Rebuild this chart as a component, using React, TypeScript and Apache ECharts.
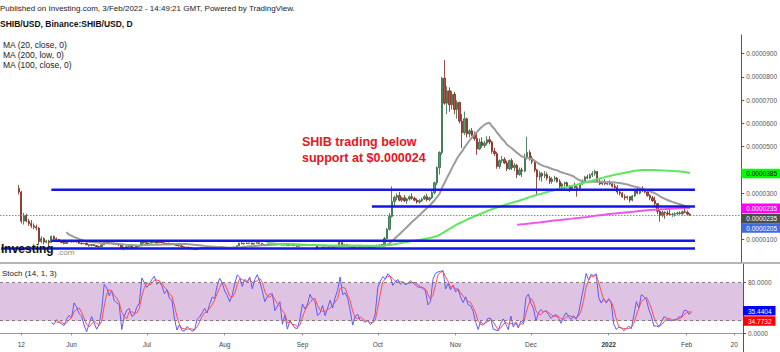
import React, { useEffect, useRef } from 'react';
import * as echarts from 'echarts';

const FONT = '"Liberation Sans", Arial, sans-serif';
const UNIT = 1e-7; // prices below are in units of 0.0000001 USD

// time axis: one category per day
const axisFirstDay = '2021-05-04';
const axisDayCount = 296;
const firstCandleDay = '2021-05-11';

// daily candles, rows: [open, high, low, close]
const may21 = [
  [320, 335, 295, 305], [305, 310, 170, 180], [180, 215, 165, 205], [205, 212, 175, 180], [180, 190, 160, 170],
  [170, 185, 150, 160], [160, 170, 145, 155], [155, 165, 140, 150], [150, 155, 80, 92], [92, 115, 85, 105],
  [105, 110, 80, 90], [90, 100, 85, 95], [95, 100, 70, 88], [88, 118, 86, 114], [114, 118, 98, 104],
  [104, 110, 98, 101], [101, 104, 92, 95], [95, 97, 85, 88], [88, 92, 80, 84], [84, 94, 82, 92], [92, 99, 89, 97],
];
const jun21 = [
  [97, 100, 88, 91], [91, 95, 88, 93], [93, 97, 89, 90], [90, 92, 82, 85], [85, 89, 80, 83], [83, 87, 81, 85],
  [85, 88, 77, 78], [78, 80, 70, 76], [76, 81, 72, 79], [79, 80, 73, 75], [75, 77, 69, 71], [71, 74, 65, 70],
  [70, 79, 68, 78], [78, 96, 77, 92], [92, 95, 86, 88], [88, 90, 82, 84], [84, 89, 82, 86], [86, 87, 79, 81],
  [81, 84, 78, 80], [80, 82, 72, 79], [79, 80, 63, 65], [65, 70, 55, 66], [66, 73, 64, 70], [70, 73, 67, 71],
  [71, 72, 64, 66], [66, 69, 63, 67], [67, 73, 66, 72], [72, 76, 70, 74], [74, 95, 73, 90], [90, 93, 84, 87],
];
const jul21 = [
  [87, 89, 82, 84], [84, 88, 82, 86], [86, 90, 85, 89], [89, 93, 87, 91], [91, 92, 85, 86], [86, 90, 85, 89],
  [89, 92, 86, 87], [87, 88, 81, 83], [83, 86, 81, 85], [85, 87, 80, 82], [82, 84, 80, 83], [83, 84, 77, 78],
  [78, 80, 74, 75], [75, 77, 71, 74], [74, 76, 69, 70], [70, 72, 66, 67], [67, 69, 65, 68], [68, 70, 64, 66],
  [66, 67, 60, 61], [61, 63, 56, 58], [58, 64, 57, 63], [63, 65, 61, 64], [64, 67, 62, 66], [66, 68, 64, 67],
  [67, 68, 63, 65], [65, 71, 64, 67], [67, 69, 63, 68], [68, 70, 66, 67], [67, 69, 65, 68], [68, 70, 65, 69],
  [69, 71, 67, 68],
];
const aug21 = [
  [68, 70, 65, 66], [66, 68, 64, 65], [65, 66, 62, 64], [64, 68, 63, 67], [67, 70, 65, 69], [69, 75, 68, 74],
  [74, 88, 73, 85], [85, 89, 81, 82], [82, 86, 79, 85], [85, 88, 83, 84], [84, 87, 82, 86], [86, 87, 80, 81],
  [81, 86, 80, 85], [85, 89, 84, 87], [87, 88, 82, 84], [84, 85, 79, 80], [80, 82, 75, 76], [76, 80, 75, 79],
  [79, 82, 77, 81], [81, 84, 80, 83], [83, 84, 79, 80], [80, 82, 78, 81], [81, 84, 80, 82], [82, 83, 76, 77],
  [77, 80, 76, 79], [79, 80, 74, 75], [75, 78, 74, 77], [77, 78, 75, 76], [76, 77, 73, 74], [74, 76, 71, 72],
  [72, 75, 71, 74],
];
const sep21 = [
  [74, 78, 73, 77], [77, 79, 75, 76], [76, 78, 74, 77], [77, 80, 76, 79], [79, 81, 77, 78], [78, 80, 76, 77],
  [77, 78, 56, 63], [63, 66, 61, 64], [64, 68, 63, 67], [67, 69, 62, 63], [63, 67, 62, 66], [66, 70, 65, 69],
  [69, 70, 64, 66], [66, 71, 65, 70], [70, 74, 69, 73], [73, 92, 72, 88], [88, 89, 76, 78], [78, 81, 76, 79],
  [79, 80, 75, 76], [76, 77, 67, 69], [69, 71, 63, 65], [65, 71, 64, 70], [70, 72, 68, 71], [71, 72, 66, 68],
  [68, 70, 66, 69], [69, 70, 65, 68], [68, 71, 67, 69], [69, 70, 66, 67], [67, 69, 66, 68], [68, 72, 67, 71],
];
const oct21 = [
  [71, 78, 70, 76], [76, 79, 74, 77], [77, 82, 76, 80], [80, 112, 79, 105], [105, 150, 103, 145], [145, 215, 140, 200],
  [200, 330, 195, 265], [265, 290, 245, 282], [282, 300, 270, 290], [290, 305, 265, 270], [270, 285, 262, 280],
  [280, 292, 262, 268], [268, 280, 255, 275], [275, 290, 268, 285], [285, 300, 272, 278], [278, 285, 265, 270],
  [270, 278, 255, 262], [262, 275, 255, 268], [268, 280, 262, 275], [275, 292, 270, 285], [285, 298, 265, 272],
  [272, 285, 265, 280], [280, 310, 275, 302], [302, 350, 295, 345], [345, 415, 335, 410], [410, 480, 380, 475],
  [475, 800, 465, 794], [794, 873, 680, 687], [687, 760, 640, 740], [740, 755, 650, 680], [680, 740, 660, 725],
];
const nov21 = [
  [725, 735, 640, 660], [660, 700, 620, 690], [690, 694, 600, 610], [610, 640, 494, 560], [560, 651, 550, 620],
  [620, 625, 540, 555], [555, 575, 540, 568], [568, 580, 545, 550], [550, 565, 525, 535], [535, 560, 465, 490],
  [490, 535, 485, 520], [520, 540, 495, 505], [505, 525, 495, 515], [515, 545, 505, 530], [530, 545, 510, 520],
  [520, 525, 470, 480], [480, 495, 460, 470], [470, 478, 405, 415], [415, 445, 405, 440], [440, 460, 430, 445],
  [445, 455, 425, 430], [430, 440, 395, 405], [405, 445, 400, 440], [440, 450, 400, 410], [410, 430, 395, 420],
  [420, 425, 365, 380], [380, 410, 375, 400], [400, 410, 370, 395], [395, 470, 390, 455], [455, 543, 445, 475],
];
const dec21 = [
  [475, 485, 440, 450], [450, 460, 425, 435], [435, 440, 390, 400], [400, 405, 290, 370], [370, 395, 355, 385],
  [385, 390, 350, 375], [375, 395, 365, 380], [380, 390, 355, 365], [365, 375, 340, 350], [350, 370, 340, 360],
  [360, 375, 350, 365], [365, 370, 345, 350], [350, 360, 320, 330], [330, 345, 320, 340], [340, 350, 315, 345],
  [345, 350, 325, 330], [330, 335, 305, 315], [315, 335, 310, 330], [330, 345, 320, 325], [325, 335, 285, 320],
  [320, 345, 318, 340], [340, 360, 335, 350], [350, 375, 345, 370], [370, 380, 360, 365], [365, 385, 360, 378],
  [378, 395, 370, 385], [385, 400, 375, 393], [393, 395, 345, 350], [350, 360, 335, 340], [340, 355, 335, 348],
  [348, 360, 335, 340],
];
const jan22 = [
  [340, 350, 335, 348], [348, 355, 335, 340], [340, 345, 325, 330], [330, 340, 320, 325], [325, 335, 295, 305],
  [305, 310, 290, 300], [300, 305, 280, 285], [285, 295, 270, 280], [280, 290, 272, 285], [285, 288, 260, 270],
  [270, 292, 265, 288], [288, 315, 285, 310], [310, 330, 295, 300], [300, 325, 295, 318], [318, 330, 305, 315],
  [315, 320, 300, 305], [305, 310, 285, 290], [290, 295, 270, 280], [280, 288, 262, 268], [268, 285, 245, 255],
  [255, 258, 210, 222], [222, 228, 178, 205], [205, 225, 198, 218], [218, 222, 190, 215], [215, 225, 205, 210],
  [210, 235, 202, 208], [208, 215, 198, 210], [210, 218, 200, 212], [212, 220, 206, 215], [215, 222, 208, 212],
  [212, 225, 205, 220],
];
const feb22 = [[220, 232, 215, 218], [218, 225, 208, 210], [210, 214, 202, 205]];

// hand-drawn horizontal levels
const levelValues = [315, 243, 96, 62];
const levelFrom = ['2021-05-24', '2021-09-29', '2021-05-24', '2021-05-04'];
const levelTo = '2022-02-05';

// axis ticks
const xTickDates = ['2021-05-12', '2021-06-01', '2021-07-01', '2021-08-01', '2021-09-01', '2021-10-01',
  '2021-11-01', '2021-12-01', '2022-01-01', '2022-02-01', '2022-02-20'];
const xTickLabels = ['12', 'Jun', 'Jul', 'Aug', 'Sep', 'Oct', 'Nov', 'Dec', '2022', 'Feb', '20'];
const priceTicks = [100, 200, 300, 400, 500, 600, 700, 800, 900];
// 200 and 400 sit under the value tags, as in the reference
const priceLabels = [100, 300, 500, 600, 700, 800, 900];
const stochTicks = [0, 80];
const stochBand = [20, 80];

// values shown in the right-hand tags: MA100, MA200, MA20, last price
const priceTags = [385, 235, 235, 205];
const stochTags = [35.4404, 34.7732];

const fmtPrice = (v: number) => (v * UNIT).toFixed(7);
const HIDDEN_LINE = { width: 0, color: 'rgba(0,0,0,0)' };

function tag(value: number, text: string, bg: string, fg: string, shift: number, line?: any) {
  const rich: any = {
    t: { backgroundColor: bg, color: fg, fontSize: 6.5, fontFamily: FONT, padding: [1.5, 4, 1, 5], lineHeight: 7.5 },
  };
  let formatter = `{t|${text}}`;
  if (shift > 0) {
    rich.g = { lineHeight: shift * 2, fontSize: 2 };
    formatter = `{g| }\n{t|${text}}`;
  }
  return {
    silent: true,
    symbol: 'none',
    lineStyle: line || HIDDEN_LINE,
    label: { show: true, position: 'end', distance: 0, formatter, rich },
    data: [{ yAxis: value }],
  };
}

function buildOption() {
  const cats: string[] = [];
  const t0 = Date.parse(axisFirstDay + 'T00:00:00Z');
  for (let i = 0; i < axisDayCount; i++) cats.push(new Date(t0 + i * 86400000).toISOString().slice(0, 10));
  const idx = (d: string) => cats.indexOf(d);
  const start = idx(firstCandleDay);

  const rows = [...may21, ...jun21, ...jul21, ...aug21, ...sep21, ...oct21, ...nov21, ...dec21, ...jan22, ...feb22];
  const closes = rows.map((r) => r[3]);
  const lows = rows.map((r) => r[2]);
  const highs = rows.map((r) => r[1]);

  const sma = (src: (number | null)[], n: number) =>
    src.map((_, i) => {
      if (i < n - 1) return null;
      const w = src.slice(i - n + 1, i + 1);
      if (w.some((x) => x == null)) return null;
      return (w as number[]).reduce((a, b) => a + b, 0) / n;
    });
  const toXY = (arr: (number | null)[]) =>
    arr.map((v, i) => (v == null ? null : [start + i, v])).filter((p) => p != null);

  const ma20 = sma(closes, 20);
  const ma100 = sma(closes, 100);
  const ma200 = sma(lows, 200);

  const kRaw: (number | null)[] = rows.map((_, i) => {
    if (i < 13) return null;
    const hh = Math.max(...highs.slice(i - 13, i + 1));
    const ll = Math.min(...lows.slice(i - 13, i + 1));
    return hh === ll ? 50 : (100 * (closes[i] - ll)) / (hh - ll);
  });
  const dLine = sma(kRaw, 3);

  const candles = rows.map((r, i) => [start + i, r[0], r[3], r[2], r[1]]);

  const tickMap = new Map(xTickDates.map((d, i) => [d, xTickLabels[i]]));
  const showTick = (_: number, v: string) => tickMap.has(v);

  const levelSeries = levelValues.map((v, i) => ({
    type: 'line',
    xAxisIndex: 0,
    yAxisIndex: 0,
    symbol: 'none',
    silent: true,
    z: 5,
    lineStyle: { color: '#1616e4', width: 2.5 },
    data: [[idx(levelFrom[i]), v], [idx(levelTo), v]],
  }));

  const labelStyle = { fontSize: 6.5, color: '#555', fontFamily: FONT };

  return {
    animation: false,
    backgroundColor: '#ffffff',
    textStyle: { fontFamily: FONT },
    grid: [
      { left: 0, right: 37, top: 35, height: 228 },
      { left: 0, right: 37, top: 263, height: 74 },
    ],
    xAxis: [
      { type: 'category', gridIndex: 0, data: cats, boundaryGap: true, show: false },
      {
        type: 'category', gridIndex: 1, data: cats, boundaryGap: true,
        axisLine: { lineStyle: { color: '#9a9a9a', width: 1 } },
        axisTick: { show: true, interval: showTick, alignWithLabel: true, length: 2, lineStyle: { color: '#888' } },
        axisLabel: {
          ...labelStyle, color: '#444', margin: 4, interval: showTick,
          formatter: (v: string) => (v === '2022-01-01' ? '{b|2022}' : tickMap.get(v) || ''),
          rich: { b: { fontWeight: 'bold', fontSize: 6.5, color: '#333', fontFamily: FONT } },
        },
        splitLine: { show: false },
      },
    ],
    yAxis: [
      {
        type: 'value', gridIndex: 0, position: 'right', min: 0, max: 980, scale: false,
        axisLine: { show: true, lineStyle: { color: '#555' } },
        axisTick: { show: true, length: 3, customValues: priceTicks, lineStyle: { color: '#555' } },
        axisLabel: { ...labelStyle, margin: 5, customValues: priceLabels, formatter: (v: number) => fmtPrice(v) },
        splitLine: { show: false },
      },
      {
        type: 'value', gridIndex: 1, position: 'right', min: -5.8, max: 111,
        axisLine: { show: true, lineStyle: { color: '#555' } },
        axisTick: { show: true, length: 3, customValues: stochTicks, lineStyle: { color: '#555' } },
        axisLabel: { ...labelStyle, margin: 5, customValues: stochTicks, formatter: (v: number) => v.toFixed(4) },
        splitLine: { show: false },
      },
    ],
    series: [
      {
        type: 'candlestick',
        name: 'SHIB/USD',
        xAxisIndex: 0,
        yAxisIndex: 0,
        barWidth: '72%',
        encode: { x: 0, y: [1, 2, 3, 4] },
        itemStyle: {
          color: '#4f9e6a', color0: '#c9483a',
          borderColor: '#2b6a43', borderColor0: '#7a2419', borderWidth: 0.8,
        },
        data: candles,
        markLine: tag(priceTags[3], fmtPrice(priceTags[3]), '#4169e1', '#ffffff', 12.8,
          { type: [1.5, 1.5], color: '#6a8ae8', width: 1, opacity: 1 }),
      },
      {
        type: 'line', name: 'MA (20, close, 0)', xAxisIndex: 0, yAxisIndex: 0, symbol: 'none', z: 3,
        lineStyle: { color: '#9c9c9c', width: 2 }, data: toXY(ma20),
        markLine: tag(priceTags[2], fmtPrice(priceTags[2]), '#4d4d4d', '#ffffff', 10.2),
      },
      {
        type: 'line', name: 'MA (200, low, 0)', xAxisIndex: 0, yAxisIndex: 0, symbol: 'none', z: 3,
        lineStyle: { color: '#ee55ee', width: 2 }, data: toXY(ma200),
        markLine: tag(priceTags[1], fmtPrice(priceTags[1]), '#ff00ff', '#ffffff', 0),
      },
      {
        type: 'line', name: 'MA (100, close, 0)', xAxisIndex: 0, yAxisIndex: 0, symbol: 'none', z: 3,
        lineStyle: { color: '#5ee65e', width: 2 }, data: toXY(ma100),
        markLine: tag(priceTags[0], fmtPrice(priceTags[0]), '#00ff00', '#000000', 0),
      },
      ...levelSeries,
      {
        type: 'line', name: '%K', xAxisIndex: 1, yAxisIndex: 1, symbol: 'none', z: 3,
        lineStyle: { color: '#5a5aff', width: 1 }, data: toXY(kRaw),
        markArea: {
          silent: true,
          itemStyle: { color: '#dfc3e3' },
          data: [[{ yAxis: stochBand[0] }, { yAxis: stochBand[1] }]],
        },
      },
      {
        type: 'line', name: 'band', xAxisIndex: 1, yAxisIndex: 1, symbol: 'none', z: 2, data: [],
        markLine: {
          silent: true, symbol: 'none', label: { show: false },
          lineStyle: { type: [3, 3], color: '#857885', width: 1 },
          data: [{ yAxis: stochBand[0] }, { yAxis: stochBand[1] }],
        },
      },
      {
        type: 'line', name: '%D', xAxisIndex: 1, yAxisIndex: 1, symbol: 'none', z: 3,
        lineStyle: { color: '#ff4d4d', width: 1 }, data: toXY(dLine),
        markLine: tag(stochTags[1], stochTags[1].toFixed(4), '#ff0000', '#ffffff', 9.7),
      },
      {
        type: 'line', name: '%K tag', xAxisIndex: 1, yAxisIndex: 1, symbol: 'none', z: 4, data: [],
        markLine: tag(stochTags[0], stochTags[0].toFixed(4), '#0000ff', '#ffffff', 0),
      },
    ],
    graphic: [
      { type: 'line', z: 50, shape: { x1: 0, y1: 263, x2: 780, y2: 263 }, style: { stroke: '#b4b4b4', lineWidth: 2 } },
      { type: 'line', z: 50, shape: { x1: 743.5, y1: 337, x2: 743.5, y2: 352 }, style: { stroke: '#555', lineWidth: 1 } },
      { type: 'text', z: 50, x: 0, y: 8, style: { text: 'Published on Investing.com, 3/Feb/2022 - 14:49:21 GMT, Powered by TradingView.', fontSize: 8, fontFamily: FONT, fill: '#222', verticalAlign: 'middle' } },
      { type: 'text', z: 50, x: 0, y: 24, style: { text: 'SHIB/USD, Binance:SHIB/USD, D', fontSize: 8.5, fontWeight: 'bold', fontFamily: FONT, fill: '#111', verticalAlign: 'middle' } },
      { type: 'text', z: 50, x: 3, y: 45, style: { text: 'MA (20, close, 0)', fontSize: 8.5, fontFamily: FONT, fill: '#222', verticalAlign: 'middle' } },
      { type: 'text', z: 50, x: 3, y: 55, style: { text: 'MA (200, low, 0)', fontSize: 8.5, fontFamily: FONT, fill: '#222', verticalAlign: 'middle' } },
      { type: 'text', z: 50, x: 3, y: 65, style: { text: 'MA (100, close, 0)', fontSize: 8.5, fontFamily: FONT, fill: '#222', verticalAlign: 'middle' } },
      { type: 'text', z: 50, x: 302, y: 141.5, style: { text: 'SHIB trading below', fontSize: 12.5, fontWeight: 'bold', fontFamily: FONT, fill: '#e8141c', verticalAlign: 'middle' } },
      { type: 'text', z: 50, x: 302, y: 157.5, style: { text: 'support at $0.000024', fontSize: 12.5, fontWeight: 'bold', fontFamily: FONT, fill: '#e8141c', verticalAlign: 'middle' } },
      { type: 'text', z: 50, x: 1, y: 249, style: { text: 'Investing', fontSize: 12, fontWeight: 'bold', fontFamily: FONT, fill: '#111', verticalAlign: 'middle' } },
      { type: 'text', z: 50, x: 57, y: 252, style: { text: '.com', fontSize: 8, fontFamily: FONT, fill: '#8a8a8a', verticalAlign: 'middle' } },
      { type: 'text', z: 50, x: 2, y: 273, style: { text: 'Stoch (14, 1, 3)', fontSize: 8, fontFamily: FONT, fill: '#222', verticalAlign: 'middle' } },
    ],
  };
}

export default function App() {
  const ref = useRef<HTMLDivElement>(null);
  useEffect(() => {
    if (!ref.current) return;
    const chart = echarts.init(ref.current, undefined, { renderer: 'svg' });
    chart.setOption(buildOption() as any);
    return () => chart.dispose();
  }, []);
  return (
    <div
      ref={ref}
      style={{ position: 'absolute', left: 0, top: 0, width: 780, height: 352, background: '#fff' }}
    />
  );
}
